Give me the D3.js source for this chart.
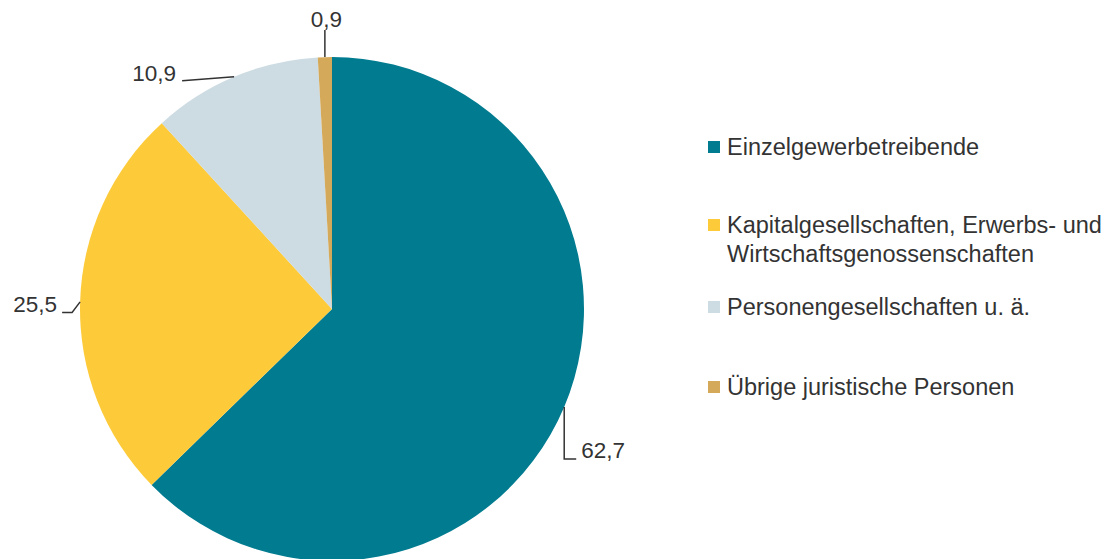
<!DOCTYPE html>
<html><head><meta charset="utf-8">
<script src="https://cdn.jsdelivr.net/npm/d3@7"></script>
<style>body{margin:0;background:#fff;} text{font-family:"Liberation Sans",Arial,sans-serif;}</style>
</head><body>
<svg id="c" width="1115" height="559"></svg>
<script>
const categories = ["Einzelgewerbetreibende", "Kapitalgesellschaften, Erwerbs- und Wirtschaftsgenossenschaften", "Personengesellschaften u. ä.", "Übrige juristische Personen"];
const legendLines = [["Einzelgewerbetreibende"], ["Kapitalgesellschaften, Erwerbs- und", "Wirtschaftsgenossenschaften"], ["Personengesellschaften u. ä."], ["Übrige juristische Personen"]];
const values = [62.7, 25.5, 10.9, 0.9];
const colors = ["#007b8f", "#fdca39", "#cddbe2", "#d5a95a"];

const svg = d3.select("#c");
const cx = 332, cy = 309, R = 252;
const fmt = d3.formatLocale({decimal: ",", thousands: ".", grouping: [3], currency: ["", "€"]}).format(".1f");

const pie = d3.pie().sort(null).value(d => d)(values);
const arc = d3.arc().innerRadius(0).outerRadius(R);
const g = svg.append("g").attr("transform", `translate(${cx},${cy})`);
g.selectAll("path").data(pie).join("path").attr("d", arc).attr("fill", (d, i) => colors[i]);

const lab = [
  {pts: [[0,0],[0,52],[12,52]], tx: 17, ty: 51, anchor: "start"},
  {pts: [[0,0],[-8,10.5],[-18,10.5]], tx: -23, ty: 10.5, anchor: "end"},
  {pts: [[0,0],[-52,4]], tx: -58, ty: 4, anchor: "end"},
  {pts: [[0,0],[0,-27]], tx: 1.5, ty: -30, anchor: "middle"}
];
const line = d3.line();
pie.forEach((d, i) => {
  const a = (d.startAngle + d.endAngle) / 2;
  const x0 = R * Math.sin(a), y0 = -R * Math.cos(a);
  const L = lab[i];
  g.append("path").attr("d", line(L.pts.map(p => [x0 + p[0], y0 + p[1]])))
    .attr("fill", "none").attr("stroke", "#333").attr("stroke-width", 1.5);
  g.append("text").attr("x", x0 + L.tx).attr("y", y0 + L.ty).attr("text-anchor", L.anchor)
    .attr("font-size", 22.5).attr("fill", "#333").text(fmt(values[i]));
});

const legY = [155, 233, 315, 395];
const lg = svg.append("g");
categories.forEach((c, i) => {
  lg.append("rect").attr("x", 708).attr("y", legY[i] - 14).attr("width", 12).attr("height", 12).attr("fill", colors[i]);
  legendLines[i].forEach((t, j) => {
    lg.append("text").attr("x", 727).attr("y", legY[i] + j * 29).attr("font-size", 23.5).attr("fill", "#333").text(t);
  });
});
</script>
</body></html>
